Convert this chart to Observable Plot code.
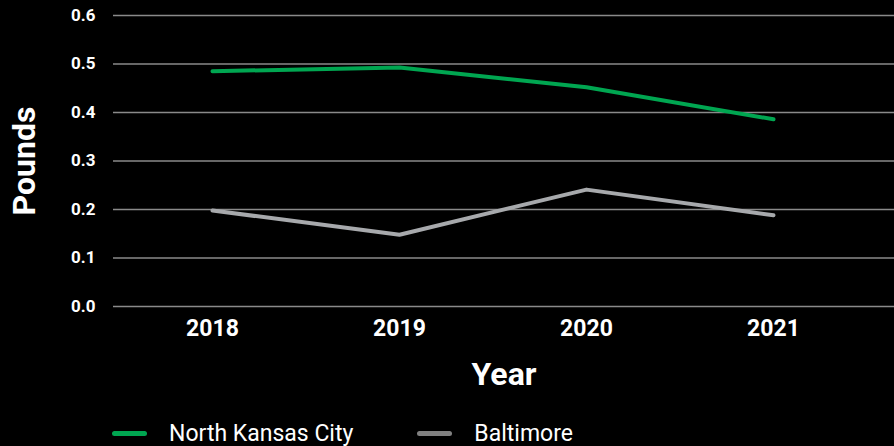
<!DOCTYPE html>
<html>
<head>
<meta charset="utf-8">
<script src="https://cdn.jsdelivr.net/npm/d3@7"></script>
<script src="https://cdn.jsdelivr.net/npm/@observablehq/plot@0.6"></script>
<style>
  html, body { margin: 0; padding: 0; background: #000; }
  body { width: 894px; height: 446px; overflow: hidden; font-family: Roboto, "Liberation Sans", sans-serif; }
  #legend { position: absolute; top: 422px; left: 112px; display: flex; align-items: center; color: #fff; font-size: 23px; line-height: 1; }
  .item { display: flex; align-items: center; margin-right: 64px; }
  .sw { width: 35px; height: 5px; border-radius: 3px; margin-right: 22px; }
</style>
</head>
<body>
<div id="chart"></div>
<div id="legend"></div>
<script>
const years = ["2018", "2019", "2020", "2021"];
const seriesNames = ["North Kansas City", "Baltimore"];
const northKansasCity = [0.485, 0.493, 0.452, 0.386];
const baltimore = [0.198, 0.148, 0.241, 0.188];
const seriesColors = ["#00a651", "#a7a9ac"];
const yTicks = [0, 0.1, 0.2, 0.3, 0.4, 0.5, 0.6];

const data = [];
years.forEach((y, i) => {
  data.push({year: y, value: northKansasCity[i], series: seriesNames[0]});
  data.push({year: y, value: baltimore[i], series: seriesNames[1]});
});

const plot = Plot.plot({
  width: 894,
  height: 412,
  marginTop: 15,
  marginBottom: 106,
  marginLeft: 113,
  marginRight: 0,
  style: {background: "#000", color: "#fff", fontFamily: "Roboto, 'Liberation Sans', sans-serif"},
  x: {type: "point", domain: years, padding: 0, insetLeft: 99, insetRight: 121},
  y: {domain: [0, 0.6]},
  color: {domain: seriesNames, range: seriesColors},
  marks: [
    Plot.gridY(yTicks, {stroke: "#8a8a8a", strokeOpacity: 1, strokeWidth: 1.3}),
    Plot.axisY(yTicks, {tickSize: 0, tickPadding: 18, tickFormat: d => d.toFixed(1), fontSize: 17, fontWeight: "bold", label: "Pounds", labelAnchor: "center", labelArrow: "none", labelOffset: 101}),
    Plot.axisX(years, {tickSize: 0, tickPadding: 13, fontSize: 23, fontWeight: "bold", label: "Year", labelAnchor: "center", labelArrow: "none", labelOffset: 78}),
    Plot.line(data, {x: "year", y: "value", z: "series", stroke: "series", strokeWidth: 4, strokeLinecap: "round", strokeLinejoin: "round"})
  ]
});
document.getElementById("chart").appendChild(plot);
plot.querySelectorAll("[aria-label='y-axis label'] text, [aria-label='x-axis label'] text").forEach(t => {
  t.setAttribute("font-size", "32");
  t.setAttribute("font-weight", "bold");
});

const legend = document.getElementById("legend");
seriesNames.forEach((name, i) => {
  const it = document.createElement("div");
  it.className = "item";
  const sw = document.createElement("div");
  sw.className = "sw";
  sw.style.background = i === 0 ? seriesColors[0] : "#808080";
  const tx = document.createElement("span");
  tx.textContent = name;
  it.appendChild(sw);
  it.appendChild(tx);
  legend.appendChild(it);
});
</script>
</body>
</html>
